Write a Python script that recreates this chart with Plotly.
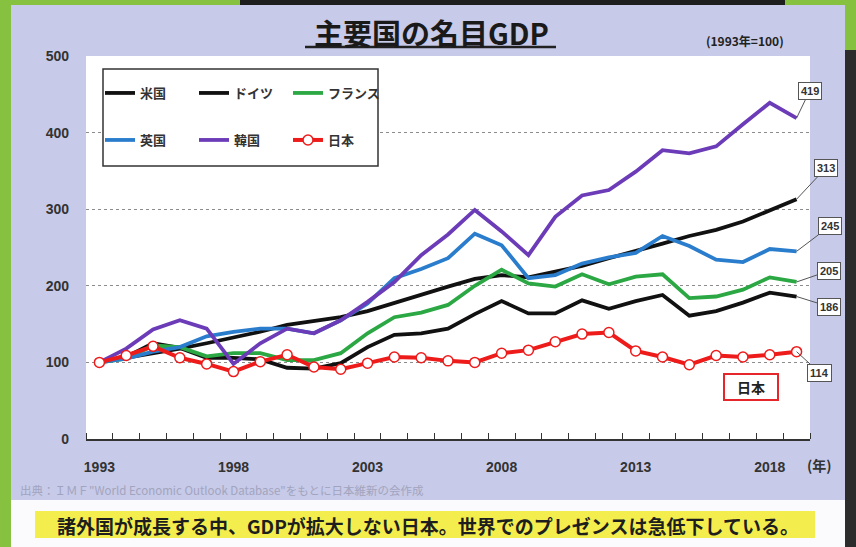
import plotly.graph_objects as go

years = list(range(1993, 2020))
tick_years = [1993, 1998, 2003, 2008, 2013, 2018]
y_ticks = [0, 100, 200, 300, 400, 500]

us = [100, 106, 111, 118, 125, 132, 140, 149, 154, 159, 167, 178, 189, 199, 209, 214, 211, 219, 226, 236, 245, 255, 265, 273, 284, 299, 313]
germany = [100, 107, 125, 119, 106, 106, 104, 93, 92, 99, 120, 136, 138, 144, 163, 180, 164, 164, 181, 170, 180, 188, 161, 167, 178, 191, 186]
france = [100, 105, 122, 120, 108, 112, 112, 103, 103, 112, 138, 159, 165, 175, 200, 221, 203, 199, 215, 202, 212, 215, 184, 186, 195, 211, 205]
uk = [100, 105, 114, 120, 134, 140, 144, 144, 138, 155, 177, 210, 222, 236, 268, 253, 210, 214, 229, 237, 243, 265, 252, 234, 231, 248, 245]
korea = [100, 118, 143, 155, 144, 98, 125, 144, 138, 155, 179, 205, 240, 267, 299, 271, 240, 290, 318, 325, 349, 377, 373, 382, 411, 439, 419]
japan = [100, 109, 121, 106, 98, 88, 101, 110, 94, 91, 99, 107, 106, 102, 100, 112, 116, 127, 137, 139, 115, 107, 97, 109, 107, 110, 114]

end_labels = ["419", "313", "245", "205", "186", "114"]

W, H = 856, 547
L, R, T, B = 86, 46, 56, 108
PW, PH = W - L - R, H - T - B

def px(x):
    return (x - L) / PW

def py(y):
    return (H - B - y) / PH

JP = "Noto Sans CJK JP"
NUM = "Liberation Sans Narrow, Liberation Sans, Arial"

fig = go.Figure()

series = [
    ("米国", us, "#111111", "legend"),
    ("ドイツ", germany, "#111111", "legend"),
    ("フランス", france, "#2ba843", "legend"),
    ("英国", uk, "#2a7dcc", "legend2"),
    ("韓国", korea, "#6b3bb8", "legend2"),
]
for name, vals, col, lg in series:
    fig.add_trace(go.Scatter(x=years, y=vals, name=name, mode="lines",
                             line=dict(color=col, width=3.8), legend=lg))
fig.add_trace(go.Scatter(x=years, y=japan, name="日本", mode="lines+markers",
                         line=dict(color="#ee1b1b", width=4),
                         marker=dict(size=10, color="white", line=dict(color="#ee1b1b", width=1.5)),
                         legend="legend2"))

shapes = [
    dict(type="rect", xref="paper", yref="paper", x0=px(240), x1=px(785), y0=py(0), y1=py(6),
         fillcolor="#1e1e1e", line=dict(width=0), layer="below"),
    dict(type="rect", xref="paper", yref="paper", x0=px(845), x1=px(856), y0=py(50), y1=py(547),
         fillcolor="#2c2c2c", line=dict(width=0), layer="below"),
    dict(type="rect", xref="paper", yref="paper", x0=px(11), x1=px(845), y0=py(5), y1=py(500),
         fillcolor="#c7cae8", line=dict(width=0), layer="below"),
    dict(type="rect", xref="paper", yref="paper", x0=px(11), x1=px(845), y0=py(500), y1=py(547),
         fillcolor="#fbfbfd", line=dict(width=0), layer="below"),
    dict(type="rect", xref="paper", yref="paper", x0=px(35), x1=px(815), y0=py(511), y1=py(538),
         fillcolor="#f3ee4e", line=dict(width=0), layer="below"),
    dict(type="rect", xref="paper", yref="paper", x0=0, x1=1, y0=0, y1=1,
         fillcolor="white", line=dict(width=0), layer="below"),
    dict(type="line", xref="paper", yref="paper", x0=px(305), x1=px(556), y0=py(47), y1=py(47),
         line=dict(color="#222", width=2.5)),
    dict(type="rect", xref="paper", yref="paper", x0=px(103), x1=px(378), y0=py(69), y1=py(166),
         fillcolor="white", line=dict(color="#333", width=1.5), layer="above"),
]

def note(text, x, y, size, color="#222", xanchor="center", **kw):
    return dict(text=text, xref="paper", yref="paper", x=px(x), y=py(y),
                xanchor=xanchor, yanchor="middle", showarrow=False,
                font=dict(family=JP, size=size, color=color), **kw)

annotations = [
    note("<b>主要国の名目GDP</b>", 431, 32, 29, "#1a1a1a"),
    note("<b>(1993年=100)</b>", 745, 41, 12),
    note("<b>(年)</b>", 819, 465, 14, "#333"),
    note("出典：ＩＭＦ\"World Economic Outlook Database\"をもとに日本維新の会作成", 18, 490, 11.5,
         "#a2a4be", xanchor="left"),
    note("<b>諸外国が成長する中、GDPが拡大しない日本。世界でのプレゼンスは急低下している。</b>",
         428, 525, 19, "#1e1e1e"),
    note("<b>日本</b>", 751, 387, 14, "#222", bgcolor="white", bordercolor="#e5262a",
         borderwidth=2, width=50, height=22),
]

end_vals = [korea[-1], us[-1], uk[-1], france[-1], germany[-1], japan[-1]]
offsets = [(13, -27), (29, -31), (33, -25), (32, -11), (32, 10), (23, 21)]
for lab, v, (ax, ay) in zip(end_labels, end_vals, offsets):
    annotations.append(dict(
        x=years[-1], y=v, text="<b>" + lab + "</b>", showarrow=True, arrowhead=0,
        arrowwidth=1, arrowcolor="#555", ax=ax, ay=ay, standoff=0,
        font=dict(family=NUM, size=11, color="#333"),
        bgcolor="white", bordercolor="#555", borderwidth=1, borderpad=2))

legend_common = dict(orientation="h", xanchor="left", yanchor="middle",
                     bgcolor="rgba(0,0,0,0)", borderwidth=0,
                     entrywidth=49, entrywidthmode="pixels",
                     font=dict(family=JP, size=13, color="#333", weight="bold"),
                     itemclick=False, itemdoubleclick=False)

fig.update_layout(
    width=W, height=H, autosize=False,
    margin=dict(l=L, r=R, t=T, b=B, pad=0),
    paper_bgcolor="#86c240",
    plot_bgcolor="rgba(0,0,0,0)",
    showlegend=True,
    legend=dict(x=px(100), y=py(93), **legend_common),
    legend2=dict(x=px(100), y=py(140), **legend_common),
    shapes=shapes,
    annotations=annotations,
    xaxis=dict(range=[1992.5, 2019.5], tickmode="array", tickvals=tick_years,
               ticktext=[str(t) for t in tick_years], ticks="", showgrid=False,
               zeroline=False, showline=True, linecolor="#333", linewidth=1.5,
               ticklabelstandoff=14,
               tickfont=dict(family=NUM, size=14, color="#333", weight="bold"),
               minor=dict(ticks="inside", tick0=1992.5, dtick=1, ticklen=6,
                          tickcolor="#333", tickwidth=1.2, showgrid=False)),
    yaxis=dict(range=[0, 500], tickmode="array", tickvals=y_ticks, showgrid=True,
               gridcolor="#8c8c8c", griddash="dot", gridwidth=1.2, zeroline=False,
               showline=False, ticks="", ticklabelstandoff=16,
               tickfont=dict(family=NUM, size=14, color="#333", weight="bold")),
)

fig.write_html("out.html", config={"displayModeBar": False},
               post_script="document.body.style.margin='0';document.body.style.overflow='hidden';")
